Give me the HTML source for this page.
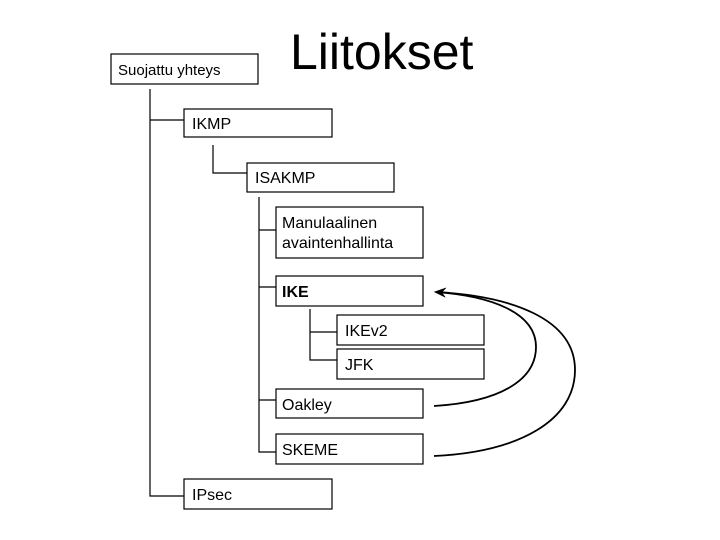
<!DOCTYPE html>
<html><head><meta charset="utf-8"><style>
body{margin:0;background:#fff;}
svg{display:block;}
text{font-family:"Liberation Sans",Arial,sans-serif;fill:#000;}
</style></head><body>
<svg width="720" height="540" viewBox="0 0 720 540" xmlns="http://www.w3.org/2000/svg">
<defs><marker id="ah" markerWidth="12" markerHeight="10" refX="10" refY="5" orient="auto" markerUnits="userSpaceOnUse"><path d="M0,0 L12,5 L0,10 L4,5 Z" fill="#000"/></marker></defs>
<g fill="#fff" stroke="#000" stroke-width="1.2">
<rect x="111" y="54" width="147" height="30"/>
<rect x="184" y="109" width="148" height="28"/>
<rect x="247" y="163" width="147" height="29"/>
<rect x="276" y="207" width="147" height="51"/>
<rect x="276" y="276" width="147" height="30"/>
<rect x="337" y="315" width="147" height="30"/>
<rect x="337" y="349" width="147" height="30"/>
<rect x="276" y="389" width="147" height="29"/>
<rect x="276" y="434" width="147" height="30"/>
<rect x="184" y="479" width="148" height="30"/>
</g>
<g fill="none" stroke="#000" stroke-width="1.2">
<path d="M150,89 V496 H184 M150,120 H184"/>
<path d="M213,145 V173 H247"/>
<path d="M259,197 V452 H276 M259,230 H276 M259,287 H276 M259,400 H276"/>
<path d="M310,309 V360 H337 M310,332 H337"/>
</g>
<g fill="none" stroke="#000" stroke-width="1.8">
<path d="M434,406 C500,402 536,380 536,347 C536,312 490,296 436,292" marker-end="url(#ah)"/>
<path d="M434,456 C520,452 575,420 575,370 C575,318 510,296 436,292" marker-end="url(#ah)"/>
</g>
<text x="290" y="69" font-size="50">Liitokset</text>
<text x="118" y="75" font-size="15">Suojattu yhteys</text>
<text x="192" y="129" font-size="16">IKMP</text>
<text x="255" y="183" font-size="16">ISAKMP</text>
<text x="282" y="228" font-size="16">Manulaalinen</text>
<text x="282" y="248" font-size="16">avaintenhallinta</text>
<text x="282" y="297" font-size="16" font-weight="bold">IKE</text>
<text x="345" y="336" font-size="16">IKEv2</text>
<text x="345" y="370" font-size="16">JFK</text>
<text x="282" y="410" font-size="16">Oakley</text>
<text x="282" y="455" font-size="16">SKEME</text>
<text x="192" y="500" font-size="16">IPsec</text>
</svg>
</body></html>
